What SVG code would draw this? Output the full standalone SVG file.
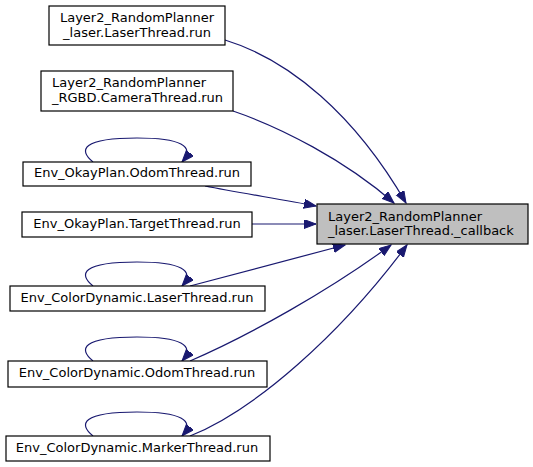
<svg xmlns="http://www.w3.org/2000/svg" width="533" height="467" viewBox="0 0 533 467">
<style>
.box{fill:#ffffff;stroke:#000000;stroke-width:1.2}
.main{fill:#bfbfbf;stroke:#000000;stroke-width:1.2}
text{font-family:"DejaVu Sans","Liberation Sans",sans-serif;font-size:13px;fill:#000000}
.m{text-anchor:middle}
.e{fill:none;stroke:#191970;stroke-width:1.2;marker-end:url(#ah)}
</style>
<defs>
<marker id="ah" markerUnits="userSpaceOnUse" markerWidth="14" markerHeight="10" refX="12" refY="4.5" orient="auto">
<path d="M0,0 L12,4.5 L0,9 Z" fill="#191970" stroke="#191970" stroke-width="1"/>
</marker>
</defs>
<rect width="533" height="467" fill="#ffffff"/>
<g id="edges">
<path class="e" d="M225,40 C290,60 355,115 406,203"/>
<path class="e" d="M233,111 C280,127 345,160 394,203"/>
<path class="e" d="M205,186 C240,193 280,199 316,206"/>
<path class="e" d="M252,224 L316,224"/>
<path class="e" d="M190,286 L345,245"/>
<path class="e" d="M190,361 C250,335 330,290 391,245"/>
<path class="e" d="M190,436 C255,410 340,335 407,245"/>
<path class="e" d="M93,162 C78,150 82,138 137,138 C180,138 196,146 182,162"/>
<path class="e" d="M93,286 C78,274 82,262 137,262 C180,262 196,270 182,286"/>
<path class="e" d="M93,361 C78,349 82,337 137,337 C180,337 196,345 182,361"/>
<path class="e" d="M93,436 C78,424 82,412 137,412 C180,412 196,420 182,436"/>
</g>
<g id="n1">
<rect class="box" x="49" y="6" width="176" height="39"/>
<text class="m" x="137" y="22">Layer2_RandomPlanner</text>
<text class="m" x="137" y="37">_laser.LaserThread.run</text>
</g>
<g id="n2">
<rect class="box" x="41" y="71" width="192" height="40"/>
<text x="52" y="87">Layer2_RandomPlanner</text>
<text x="52" y="102">_RGBD.CameraThread.run</text>
</g>
<g id="n3">
<rect class="box" x="23" y="162" width="228" height="24"/>
<text class="m" x="137" y="177">Env_OkayPlan.OdomThread.run</text>
</g>
<g id="n4">
<rect class="box" x="22" y="212" width="230" height="25"/>
<text class="m" x="137" y="228">Env_OkayPlan.TargetThread.run</text>
</g>
<g id="n5">
<rect class="box" x="10" y="286" width="255" height="25"/>
<text class="m" x="137" y="302">Env_ColorDynamic.LaserThread.run</text>
</g>
<g id="n6">
<rect class="box" x="8" y="361" width="259" height="26"/>
<text class="m" x="137" y="377">Env_ColorDynamic.OdomThread.run</text>
</g>
<g id="n7">
<rect class="box" x="6" y="436" width="264" height="25"/>
<text class="m" x="137" y="452">Env_ColorDynamic.MarkerThread.run</text>
</g>
<g id="target">
<rect class="main" x="317" y="204" width="211" height="40"/>
<text x="328" y="221">Layer2_RandomPlanner</text>
<text x="328" y="235">_laser.LaserThread._callback</text>
</g>
</svg>
